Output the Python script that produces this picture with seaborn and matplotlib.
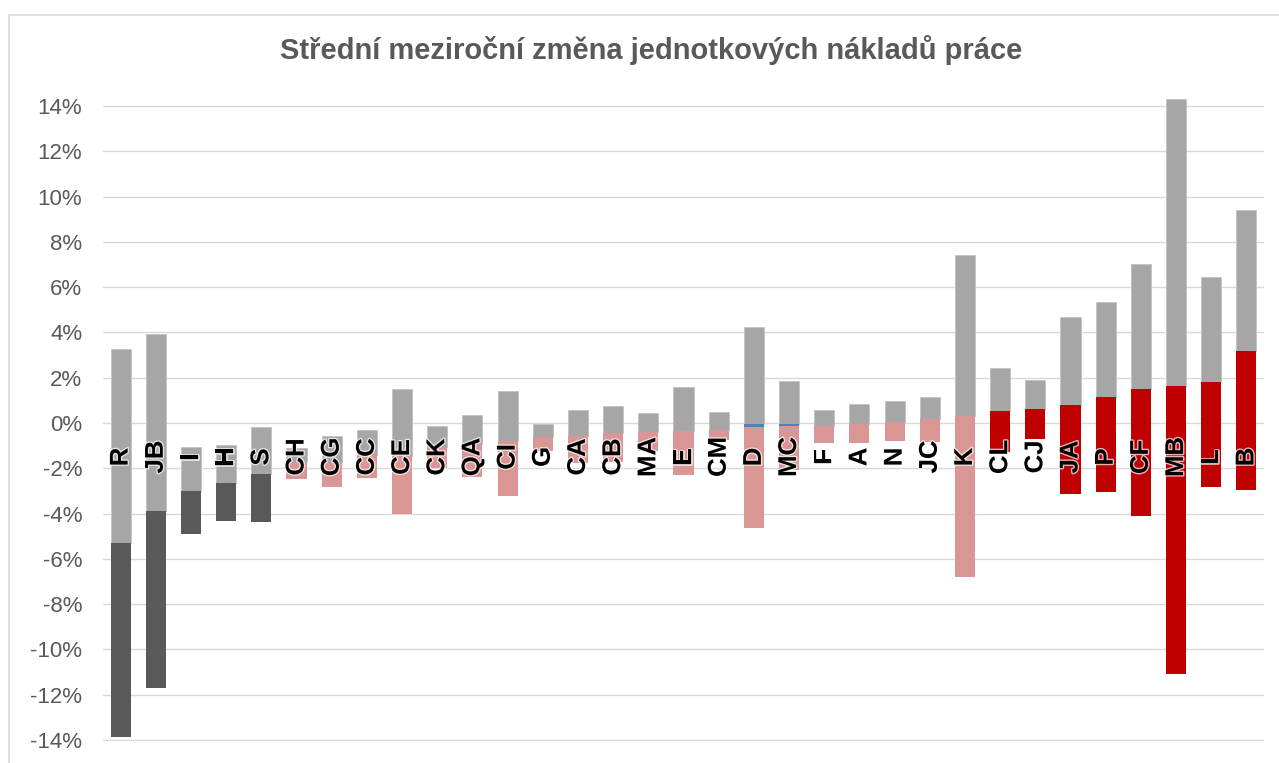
import numpy as np
import pandas as pd
import matplotlib
matplotlib.use("Agg")
import matplotlib.pyplot as plt
import matplotlib.patheffects as pe
from matplotlib.ticker import FuncFormatter, FixedLocator
from matplotlib.lines import Line2D
import seaborn as sns

# ---- data (percent) ----
categories = ["R", "JB", "I", "H", "S", "CH", "CG", "CC", "CE", "CK", "QA", "CI",
              "G", "CA", "CB", "MA", "E", "CM", "D", "MC", "F", "A", "N", "JC",
              "K", "CL", "CJ", "JA", "P", "CF", "MB", "L", "B"]
# lower (coloured) segment: from low to mid
low = [-13.86, -11.73, -4.89, -4.31, -4.36, -2.47, -2.81, -2.41, -4.02, -2.00, -2.37, -3.22,
       -1.22, -1.77, -1.71, -1.22, -2.30, -0.75, -4.64, -2.10, -0.87, -0.87, -0.78, -0.83,
       -6.82, -1.30, -0.71, -3.13, -3.06, -4.10, -11.10, -2.85, -2.97]
mid = [-5.29, -3.89, -3.00, -2.65, -2.25, -1.71, -1.71, -1.41, -1.46, -1.05, -0.93, -0.78,
       -0.63, -0.57, -0.46, -0.38, -0.34, -0.31, -0.16, -0.12, -0.12, -0.04, 0.06, 0.16,
       0.31, 0.52, 0.61, 0.78, 1.13, 1.50, 1.63, 1.79, 3.18]
# upper (grey) segment: up to high
high = [3.27, 3.92, -1.07, -0.97, -0.18, -1.12, -0.56, -0.31, 1.49, -0.13, 0.37, 1.43,
        -0.04, 0.57, 0.77, 0.43, 1.58, 0.50, 4.25, 1.87, 0.57, 0.82, 0.96, 1.13,
        7.43, 2.42, 1.91, 4.68, 5.34, 7.03, 14.33, 6.47, 9.41]
# thin blue segment (only D and MC)
blue_cats = ["D", "MC"]
blue_low = [-0.16, -0.12]
blue_high = [-0.04, -0.04]
group = ["dark"] * 5 + ["pink"] * 20 + ["red"] * 8
yticks = list(range(-14, 15, 2))
title = "Střední meziroční změna jednotkových nákladů práce"

colors = {"dark": "#595959", "pink": "#DA9694", "red": "#C00000"}
grey = "#A6A6A6"
blue = "#4F81BD"
text_grey = "#595959"

df = pd.DataFrame({"cat": categories, "low": np.array(low) / 100, "mid": np.array(mid) / 100,
                   "high": np.array(high) / 100, "group": group})
df["mid2"] = df["mid"]
bd = dict(zip(blue_cats, blue_high))
df.loc[df["cat"].isin(blue_cats), "mid2"] = df.loc[df["cat"].isin(blue_cats), "cat"].map(bd) / 100

sns.set_theme(style="white")
plt.rcParams["font.family"] = ["Liberation Sans", "DejaVu Sans"]

fig = plt.figure(figsize=(12.79, 7.63), dpi=100)
ax = fig.add_axes([103 / 1279, 1 - 741 / 763, (1264 - 103) / 1279, (741 - 97) / 763])

W = 0.57
# grey upper segments
sns.barplot(data=df, x="cat", y=df["high"] - df["mid2"], order=categories, color=grey,
            bottom=df["mid2"].to_numpy(), width=W, errorbar=None, ax=ax,
            edgecolor="#C4C4C4", linewidth=0.7, saturation=1, zorder=2)
# coloured lower segments
for g, c in colors.items():
    sub = df[df["group"] == g]
    sns.barplot(data=sub, x="cat", y=sub["mid"] - sub["low"], order=categories, color=c,
                bottom=sub["low"].to_numpy(), width=W, errorbar=None, ax=ax,
                linewidth=0, saturation=1, zorder=2)
# blue thin segments
bdf = pd.DataFrame({"cat": blue_cats, "lo": np.array(blue_low) / 100,
                    "hi": np.array(blue_high) / 100})
sns.barplot(data=bdf, x="cat", y=bdf["hi"] - bdf["lo"], order=categories, color=blue,
            bottom=bdf["lo"].to_numpy(), width=W, errorbar=None, ax=ax,
            linewidth=0, saturation=1, zorder=2)

# category labels inside the chart
for i, cat in enumerate(categories):
    ax.text(i, -0.015, cat, rotation=90, ha="center", va="center", fontsize=18.5,
            fontweight="bold", color="black", zorder=5,
            path_effects=[pe.withStroke(linewidth=2.0, foreground=(1, 1, 1, 0.7))])

ax.set_xlim(-0.5, len(categories) - 0.5)
ax.set_ylim(-0.1405, 0.1440)
ax.yaxis.set_major_locator(FixedLocator([t / 100 for t in yticks]))
ax.yaxis.set_major_formatter(FuncFormatter(lambda v, p: f"{v * 100:.0f}%"))
ax.tick_params(axis="y", length=0, pad=15, labelsize=16, labelcolor=text_grey)
ax.set_xticks([])
ax.set_xlabel("")
ax.set_ylabel("")
ax.grid(axis="y", color="#D9D9D9", linewidth=1.0, zorder=0)
ax.set_axisbelow(True)
for s in ax.spines.values():
    s.set_visible(False)
ax.patch.set_alpha(0)

fig.text(651 / 1279, 1 - 50 / 763, title, ha="center", va="center", fontsize=21,
         fontweight="bold", color=text_grey)

# chart border (left and top visible in the reference)
fig.add_artist(Line2D([8.5 / 1279, 8.5 / 1279], [0, 1 - 14.5 / 763], transform=fig.transFigure,
                      color="#D9D9D9", linewidth=1.2))
fig.add_artist(Line2D([8.5 / 1279, 1], [1 - 14.5 / 763, 1 - 14.5 / 763], transform=fig.transFigure,
                      color="#D9D9D9", linewidth=1.2))

fig.savefig("out.png", dpi=100)
